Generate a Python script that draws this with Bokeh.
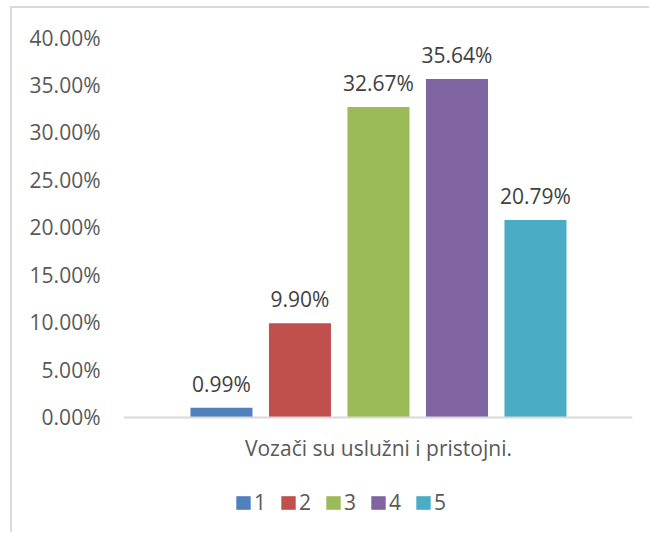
from bokeh.plotting import figure
from bokeh.models import (ColumnDataSource, FixedTicker, NumeralTickFormatter,
                          Legend, LegendItem, Range1d)
from bokeh.core.properties import value
from bokeh.embed import file_html
from bokeh.resources import INLINE

# ---- data ----
categories = ["1", "2", "3", "4", "5"]
values = [0.0099, 0.0990, 0.3267, 0.3564, 0.2079]
value_labels = ["0.99%", "9.90%", "32.67%", "35.64%", "20.79%"]
colors = ["#4F81BD", "#C0504D", "#9BBB59", "#8064A2", "#4BACC6"]
question = "Vozači su uslužni i pristojni."
y_ticks = [0.0, 0.05, 0.10, 0.15, 0.20, 0.25, 0.30, 0.35, 0.40]

positions = [i + 1 for i in range(len(categories))]
source = ColumnDataSource(dict(x=positions, top=values, color=colors,
                               label=value_labels, cat=categories))

FONT = "Open Sans"

# frame: top at y=38, value 0 at y=417, bottom of frame at y=534
px_per_unit = (417 - 38) / 0.40
y_start = -(534 - 417) / px_per_unit

p = figure(width=639, height=526, output_backend="svg", toolbar_location=None,
           x_range=Range1d(-0.248, 6.236), y_range=Range1d(y_start, 0.40),
           min_border_left=111, min_border_right=19,
           min_border_top=29, min_border_bottom=0,
           styles={"border-left": "2px solid #D9D9D9",
                   "border-top": "2px solid #D9D9D9",
                   "margin-left": "10px", "margin-top": "6px"})

p.outline_line_color = None
p.xgrid.visible = False
p.ygrid.visible = False
p.background_fill_color = "white"
p.border_fill_color = "white"

bars = p.vbar(x="x", top="top", width=0.79, bottom=0, fill_color="color",
              line_color=None, source=source)

p.text(x="x", y="top", text="label", source=source,
       text_font=value(FONT), text_font_size="21px", text_color="#404040",
       text_align="center", text_baseline="alphabetic", y_offset=-24)

# y axis
p.yaxis.ticker = FixedTicker(ticks=y_ticks)
p.yaxis.formatter = NumeralTickFormatter(format="0.00%")
p.yaxis.axis_line_color = None
p.yaxis.major_tick_line_color = None
p.yaxis.minor_tick_line_color = None
p.yaxis.major_tick_out = 0
p.yaxis.major_tick_in = 0
p.yaxis.major_label_standoff = 23
p.yaxis.major_label_text_font = FONT
p.yaxis.major_label_text_font_size = "21px"
p.yaxis.major_label_text_color = "#595959"

# x axis (drawn at value 0)
p.xaxis.fixed_location = 0
p.xaxis.ticker = FixedTicker(ticks=[3])
p.xaxis.major_label_overrides = {3: question}
p.xaxis.axis_line_color = "#D9D9D9"
p.xaxis.axis_line_width = 2
p.xaxis.major_tick_line_color = None
p.xaxis.minor_tick_line_color = None
p.xaxis.major_tick_out = 0
p.xaxis.major_tick_in = 0
p.xaxis.major_label_standoff = 17
p.xaxis.major_label_text_font = FONT
p.xaxis.major_label_text_font_size = "21px"
p.xaxis.major_label_text_color = "#595959"

items = [LegendItem(label=c, renderers=[bars], index=i)
         for i, c in enumerate(categories)]
legend = Legend(items=items, orientation="horizontal", location=(111, 18),
                padding=0, margin=0, spacing=13, label_standoff=2,
                glyph_width=18, glyph_height=17, label_width=0,
                label_height=13,
                label_text_font=FONT, label_text_font_size="21px",
                label_text_color="#595959", border_line_color=None,
                background_fill_alpha=0)
p.add_layout(legend, "center")

open("out.html", "w").write(file_html(p, INLINE))
